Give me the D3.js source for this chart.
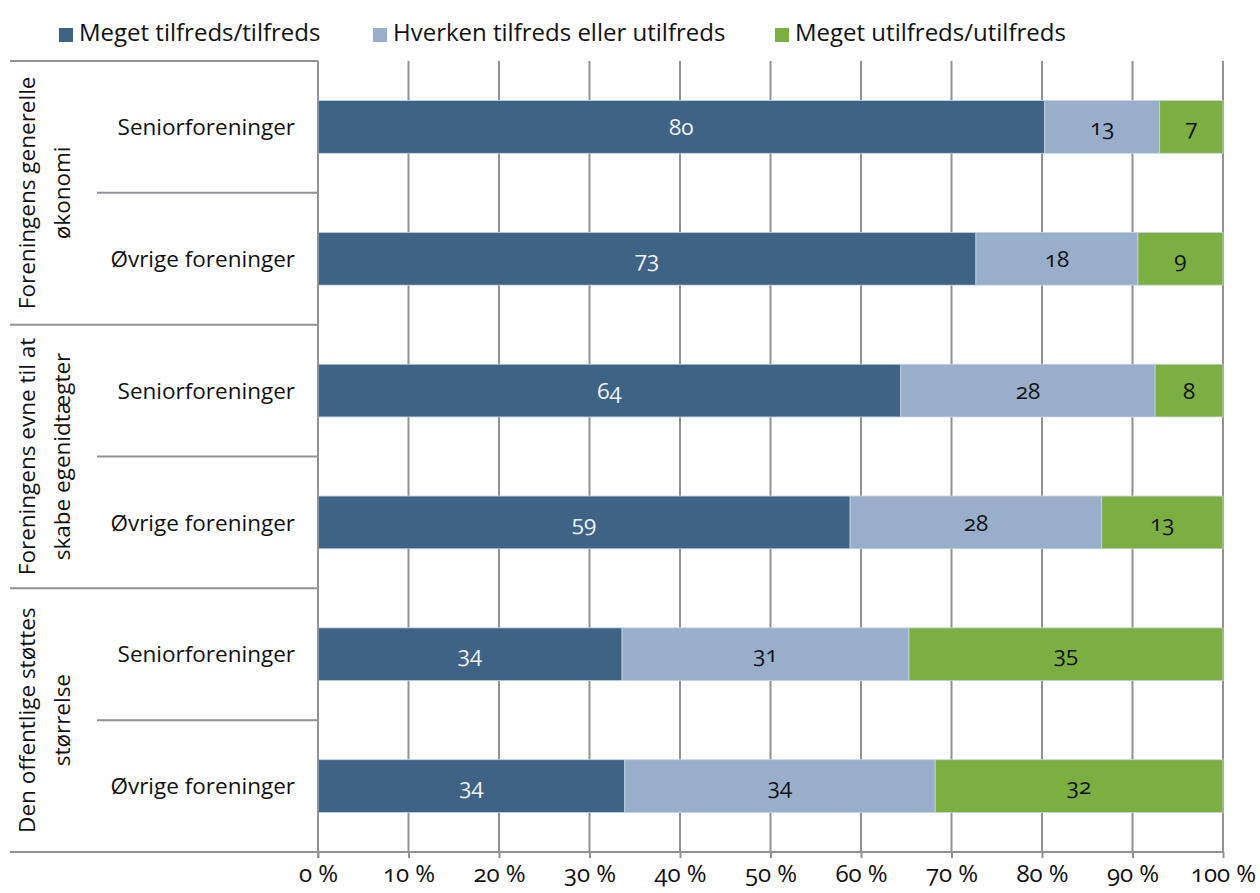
<!DOCTYPE html>
<html><head><meta charset="utf-8">
<script src="https://cdn.jsdelivr.net/npm/d3@7"></script>
<style>
body{margin:0;background:#fff;}
svg text{font-family:"Open Sans","Noto Sans",sans-serif;}
.num{font-variant-numeric:oldstyle-nums;font-feature-settings:"onum" 1;}
</style></head>
<body><svg id="c" width="1260" height="893"></svg>
<script>
// ---- data ----
const groups = [["Foreningens generelle","økonomi"],["Foreningens evne til at","skabe egenidtægter"],["Den offentlige støttes","størrelse"]];
const subCategories = ["Seniorforeninger","Øvrige foreninger"];
const seriesNames = ["Meget tilfreds/tilfreds","Hverken tilfreds eller utilfreds","Meget utilfreds/utilfreds"];
const satisfied    = [80.3, 72.7, 64.4, 58.8, 33.6, 33.9];
const neutral      = [12.7, 17.9, 28.1, 27.8, 31.7, 34.3];
const dissatisfied = [7.0, 9.4, 7.5, 13.4, 34.7, 31.8];
const satisfiedLabels    = [80, 73, 64, 59, 34, 34];
const neutralLabels      = [13, 18, 28, 28, 31, 34];
const dissatisfiedLabels = [7, 9, 8, 13, 35, 32];
const tickValues = [0,10,20,30,40,50,60,70,80,90,100];

(function(){
// ---- layout ----
const colors = ["#3f6384","#98aecb","#7baf42"];
const labelColors = ["#eef2f7","#111","#111"];
const svg = d3.select("#c");
const pLeft = 318, pRight = 1223, pTop = 61, pBottom = 852;
const rows = d3.range(groups.length*subCategories.length);
const x = d3.scaleLinear().domain([0,100]).range([pLeft,pRight]);
const y = d3.scaleBand().domain(rows).range([pTop,pBottom]).paddingInner(0.6).paddingOuter(0.3);
const step = y.step();
const grey = "#919196";

// gridlines
svg.append("g").selectAll("line").data(tickValues.slice(1)).join("line")
  .attr("x1",d=>x(d)).attr("x2",d=>x(d)).attr("y1",pTop).attr("y2",pBottom)
  .attr("stroke",grey).attr("stroke-width",2);

// stacked bars
const seriesLabels=[satisfiedLabels,neutralLabels,dissatisfiedLabels];
const table = rows.map(i=>({row:i, a:satisfied[i], b:neutral[i], c:dissatisfied[i]}));
const stack = d3.stack().keys(["a","b","c"])(table);
stack.forEach((layer,si)=>{
  const g = svg.append("g");
  g.selectAll("rect").data(layer).join("rect")
    .attr("x",d=>x(d[0])).attr("width",d=>x(d[1])-x(d[0]))
    .attr("y",d=>y(d.data.row)).attr("height",y.bandwidth())
    .attr("fill",colors[si]).attr("stroke","#c8d3e0").attr("stroke-width",0.8);
  g.selectAll("text").data(layer).join("text").attr("class","num")
    .attr("x",d=>(x(d[0])+x(d[1]))/2).attr("y",d=>y(d.data.row)+y.bandwidth()/2)
    .attr("dy","0.36em").attr("text-anchor","middle")
    .attr("font-size",22.5).attr("fill",labelColors[si])
    .text((d,i)=>seriesLabels[si][i]);
});

// left axis line
svg.append("line").attr("x1",pLeft).attr("x2",pLeft).attr("y1",pTop).attr("y2",pBottom+6)
  .attr("stroke",grey).attr("stroke-width",2);

// bottom axis
const xAxis = d3.axisBottom(x).tickValues(tickValues).tickSize(6).tickFormat(d=>d+" %");
const ax = svg.append("g").attr("transform",`translate(0,${pBottom})`).call(xAxis);
ax.select(".domain").remove();
ax.selectAll(".tick line").attr("stroke",grey).attr("stroke-width",2);
ax.selectAll(".tick text").attr("class","num").attr("font-size",24).attr("fill","#111")
  .attr("font-family","'Open Sans',sans-serif").attr("y",13).attr("dy","0.71em");
svg.append("line").attr("x1",10).attr("x2",pRight).attr("y1",pBottom).attr("y2",pBottom)
  .attr("stroke",grey).attr("stroke-width",2);

// category separators
const nSub = subCategories.length;
groups.forEach((g,gi)=>{
  const y0 = pTop + gi*nSub*step;
  svg.append("line").attr("x1",10).attr("x2",pLeft).attr("y1",y0).attr("y2",y0)
    .attr("stroke",grey).attr("stroke-width",2);
  for(let s=1;s<nSub;s++){
    const ys = y0 + s*step;
    svg.append("line").attr("x1",97).attr("x2",pLeft).attr("y1",ys).attr("y2",ys)
      .attr("stroke",grey).attr("stroke-width",2);
  }
  const yc = y0 + nSub*step/2;
  const baselines=[35,70];
  g.forEach((line,li)=>{
    svg.append("text").attr("transform",`translate(${baselines[li]},${yc}) rotate(-90)`)
      .attr("text-anchor","middle").attr("font-size",22.5).attr("fill","#111").text(line);
  });
});

// sub-category labels
rows.forEach(i=>{
  svg.append("text").attr("x",295).attr("y",y(i)+y.bandwidth()/2).attr("dy","0.36em")
    .attr("text-anchor","end").attr("font-size",22.5).attr("fill","#111")
    .text(subCategories[i%nSub]);
});

// legend
const legX=[59,373,775];
seriesNames.forEach((n,i)=>{
  svg.append("rect").attr("x",legX[i]).attr("y",28).attr("width",14).attr("height",14).attr("fill",colors[i]);
  svg.append("text").attr("x",legX[i]+20).attr("y",41)
    .attr("font-size",24).attr("fill","#111").text(n);
});
})();
</script></body></html>
